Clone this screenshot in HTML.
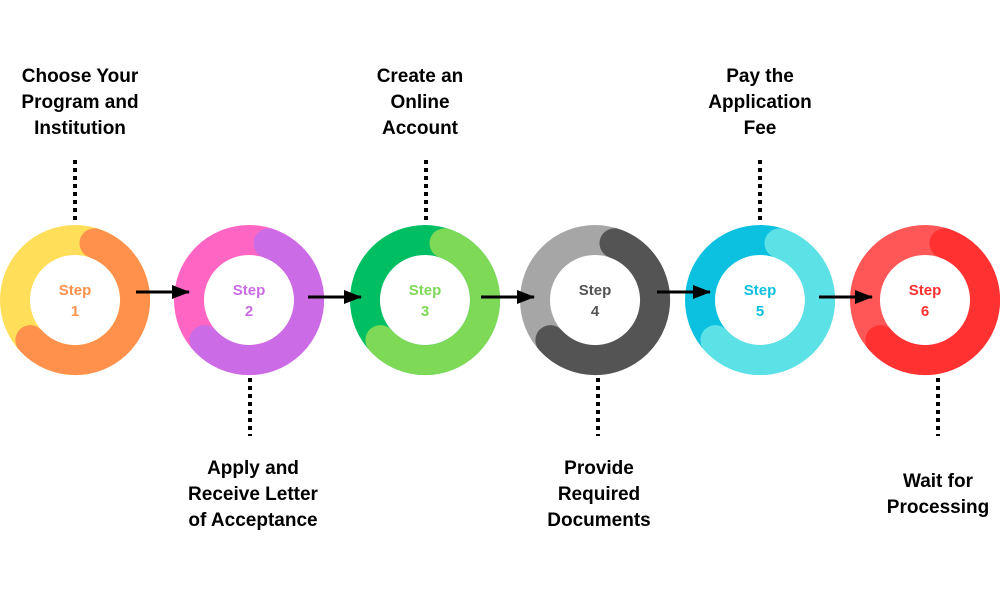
<!DOCTYPE html>
<html><head><meta charset="utf-8"><style>
body{margin:0;background:#fff;}
svg{display:block;}
.l{font-family:"Liberation Sans",sans-serif;font-weight:bold;font-size:19px;fill:#000;text-anchor:middle;}
.s{font-family:"Liberation Sans",sans-serif;font-weight:bold;font-size:15px;text-anchor:middle;}
.d{stroke:#000;stroke-width:4;stroke-dasharray:4 4;}
</style></head><body>
<svg width="1000" height="600" viewBox="0 0 1000 600">
<defs>
<marker id="ah" markerWidth="18" markerHeight="14" refX="17" refY="7" orient="auto" markerUnits="userSpaceOnUse" viewBox="0 0 18 14">
<path d="M0,0 L18,7 L0,14 z" fill="#000"/></marker>
</defs>

<line class="d" x1="75" y1="160" x2="75" y2="222"/>
<line class="d" x1="426" y1="160" x2="426" y2="222"/>
<line class="d" x1="760" y1="160" x2="760" y2="222"/>
<line class="d" x1="250" y1="378" x2="250" y2="436"/>
<line class="d" x1="598" y1="378" x2="598" y2="436"/>
<line class="d" x1="938" y1="378" x2="938" y2="436"/>

<g transform="translate(75,300)"><circle r="60" fill="none" stroke="#FFDE59" stroke-width="30"/><path d="M19.5,-56.7 A60,60 0 1 1 -44.6,40.1" fill="none" stroke="#FF914D" stroke-width="30" stroke-linecap="round"/>
<text class="s" y="-5" fill="#FF914D">Step</text><text class="s" y="16" fill="#FF914D">1</text></g>
<g transform="translate(249,300)"><circle r="60" fill="none" stroke="#FF66C4" stroke-width="30"/><path d="M19.5,-56.7 A60,60 0 1 1 -44.6,40.1" fill="none" stroke="#CB6CE6" stroke-width="30" stroke-linecap="round"/>
<text class="s" y="-5" fill="#CB6CE6">Step</text><text class="s" y="16" fill="#CB6CE6">2</text></g>
<g transform="translate(425,300)"><circle r="60" fill="none" stroke="#00BF63" stroke-width="30"/><path d="M19.5,-56.7 A60,60 0 1 1 -44.6,40.1" fill="none" stroke="#7ED957" stroke-width="30" stroke-linecap="round"/>
<text class="s" y="-5" fill="#7ED957">Step</text><text class="s" y="16" fill="#7ED957">3</text></g>
<g transform="translate(595,300)"><circle r="60" fill="none" stroke="#A6A6A6" stroke-width="30"/><path d="M19.5,-56.7 A60,60 0 1 1 -44.6,40.1" fill="none" stroke="#545454" stroke-width="30" stroke-linecap="round"/>
<text class="s" y="-5" fill="#545454">Step</text><text class="s" y="16" fill="#545454">4</text></g>
<g transform="translate(760,300)"><circle r="60" fill="none" stroke="#0CC0DF" stroke-width="30"/><path d="M19.5,-56.7 A60,60 0 1 1 -44.6,40.1" fill="none" stroke="#5CE1E6" stroke-width="30" stroke-linecap="round"/>
<text class="s" y="-5" fill="#0CC0DF">Step</text><text class="s" y="16" fill="#0CC0DF">5</text></g>
<g transform="translate(925,300)"><circle r="60" fill="none" stroke="#FF5757" stroke-width="30"/><path d="M19.5,-56.7 A60,60 0 1 1 -44.6,40.1" fill="none" stroke="#FF3131" stroke-width="30" stroke-linecap="round"/>
<text class="s" y="-5" fill="#FF3131">Step</text><text class="s" y="16" fill="#FF3131">6</text></g>

<g stroke="#000" stroke-width="3">
<line x1="136" y1="292" x2="189" y2="292" marker-end="url(#ah)"/>
<line x1="308" y1="297" x2="361" y2="297" marker-end="url(#ah)"/>
<line x1="481" y1="297" x2="534" y2="297" marker-end="url(#ah)"/>
<line x1="657" y1="292" x2="710" y2="292" marker-end="url(#ah)"/>
<line x1="819" y1="297" x2="872" y2="297" marker-end="url(#ah)"/>
</g>

<text class="l" x="80" y="82">Choose Your</text>
<text class="l" x="80" y="108">Program and</text>
<text class="l" x="80" y="134">Institution</text>
<text class="l" x="420" y="82">Create an</text>
<text class="l" x="420" y="108">Online</text>
<text class="l" x="420" y="134">Account</text>
<text class="l" x="760" y="82">Pay the</text>
<text class="l" x="760" y="108">Application</text>
<text class="l" x="760" y="134">Fee</text>
<text class="l" x="253" y="474">Apply and</text>
<text class="l" x="253" y="500">Receive Letter</text>
<text class="l" x="253" y="526">of Acceptance</text>
<text class="l" x="599" y="474">Provide</text>
<text class="l" x="599" y="500">Required</text>
<text class="l" x="599" y="526">Documents</text>
<text class="l" x="938" y="487">Wait for</text>
<text class="l" x="938" y="513">Processing</text>
</svg>
</body></html>
